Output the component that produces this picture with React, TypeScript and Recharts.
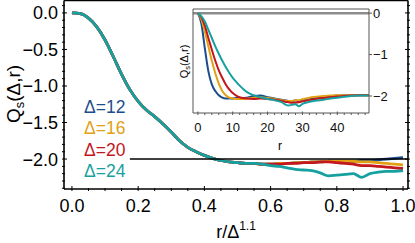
import React from "react";
import { LineChart, Line, XAxis, YAxis, ReferenceLine, Legend } from "recharts";

// main panel: Q_s(Δ,r) against r/Δ^1.1
const rMain = [
  0, 0.025, 0.05, 0.075, 0.1, 0.125, 0.15, 0.175, 0.2, 0.225, 0.25, 0.275, 0.3, 0.325,
  0.35, 0.375, 0.4, 0.425, 0.45, 0.475, 0.5, 0.525, 0.55, 0.575, 0.6, 0.625, 0.65, 0.675,
  0.7, 0.725, 0.75, 0.775, 0.8, 0.825, 0.85, 0.875, 0.9, 0.925, 0.95, 0.975, 1.0,
];
// the four sizes collapse onto one curve up to r/Δ^1.1 ≈ 0.55
const qCollapse = [
  0, -0.01, -0.07, -0.19, -0.37, -0.6, -0.84, -1.05, -1.21, -1.33, -1.42, -1.52, -1.63,
  -1.75, -1.84, -1.9, -1.95, -1.99, -2.02, -2.04, -2.05, -2.06, -2.06,
];
const qTail12 = [-2.07, -2.07, -2.06, -2.06, -2.05, -2.05, -2.04, -2.04, -2.03, -2.03, -2.03, -2.03, -2.02, -2.02, -2.01, -2.0, -1.99, -1.98];
const qTail16 = [-2.07, -2.07, -2.06, -2.06, -2.05, -2.05, -2.04, -2.04, -2.03, -2.03, -2.03, -2.03, -2.04, -2.04, -2.05, -2.06, -2.07, -2.08];
const qTail20 = [-2.07, -2.07, -2.07, -2.06, -2.06, -2.05, -2.05, -2.04, -2.04, -2.05, -2.06, -2.07, -2.09, -2.09, -2.1, -2.11, -2.12, -2.13];
const qTail24 = [-2.07, -2.09, -2.1, -2.12, -2.14, -2.15, -2.16, -2.19, -2.23, -2.22, -2.21, -2.2, -2.25, -2.2, -2.18, -2.17, -2.17, -2.16];

// inset: Q_s(Δ,r) against r
const rInset = [0, 1, 2, 3, 4, 5, 6, 7, 8, 9, 10, 11, 12, 13, 14, 16, 18, 20, 22, 24, 25, 26, 27, 28, 29, 30, 32, 34, 36, 38, 40, 42, 44, 46, 48, 49];
const qInset12 = [0, -0.25, -0.85, -1.4, -1.72, -1.88, -1.98, -2.04, -2.06, -2.06, -2.06, -2.05, -2.05, -2.05, -2.04, -2.0, -1.99, -2.03, -2.06, -2.09, -2.1, -2.12, -2.12, -2.11, -2.12, -2.09, -2.06, -2.04, -2.02, -2.0, -1.99, -1.98, -1.98, -1.98, -1.98, -1.98];
const qInset16 = [0, -0.15, -0.45, -0.8, -1.15, -1.45, -1.7, -1.88, -1.98, -2.04, -2.06, -2.07, -2.07, -2.07, -2.06, -2.04, -2.03, -2.05, -2.07, -2.1, -2.11, -2.12, -2.12, -2.1, -2.1, -2.08, -2.04, -2.02, -2.0, -1.99, -1.98, -1.98, -1.98, -1.98, -1.98, -1.98];
const qInset20 = [0, -0.1, -0.3, -0.6, -0.88, -1.15, -1.38, -1.56, -1.72, -1.84, -1.93, -1.99, -2.03, -2.05, -2.06, -2.07, -2.06, -2.07, -2.09, -2.12, -2.14, -2.15, -2.16, -2.16, -2.15, -2.13, -2.1, -2.07, -2.05, -2.03, -2.01, -2.0, -1.99, -1.98, -1.98, -1.98];
const qInset24 = [0, -0.08, -0.2, -0.4, -0.6, -0.8, -0.98, -1.15, -1.3, -1.44, -1.56, -1.66, -1.75, -1.83, -1.9, -1.98, -2.03, -2.07, -2.1, -2.15, -2.2, -2.23, -2.21, -2.2, -2.25, -2.19, -2.14, -2.11, -2.09, -2.06, -2.04, -2.02, -2.0, -1.99, -1.99, -1.99];

const seriesNames = ["Δ=12", "Δ=16", "Δ=20", "Δ=24"];
const colors = ["#1c4d8d", "#e2a114", "#c3161d", "#17a0a0"];

const xMajor = [0, 0.2, 0.4, 0.6, 0.8, 1.0];
const yMajor = [0, -0.5, -1.0, -1.5, -2.0];
const insetXMajor = [0, 10, 20, 30, 40];
const insetYMajor = [0, -1, -2];
const plateau = -2;

const font = "'Liberation Sans', Arial, sans-serif";

const mainData = [qTail12, qTail16, qTail20, qTail24].map((tail) =>
  rMain.map((r, i) => ({ r, q: [...qCollapse, ...tail][i] }))
);
const insetData = [qInset12, qInset16, qInset20, qInset24].map((qs) =>
  rInset.map((r, i) => ({ r, q: qs[i] }))
);

// minor tick positions
const xTicks = Array.from({ length: 21 }, (_, i) => Math.round(i * 5) / 100);
const yTicks = Array.from({ length: 26 }, (_, i) => Math.round(10 - i * 1) / 10 - 0.9);
const insetXTicks = Array.from({ length: 25 }, (_, i) => i * 2);

const isMajor = (v: number, majors: number[]) => majors.some((m) => Math.abs(m - v) < 1e-6);
const fmt = (v: number) => (v < 0 ? "\u2212" + Math.abs(v).toFixed(1) : v.toFixed(1));

const frameTick =
  (side: string, majors: number[], withLabel: boolean) =>
  (props: any) => {
    const { x, y, payload } = props;
    const len = isMajor(payload.value, majors) ? 5 : 3;
    const major = isMajor(payload.value, majors);
    let line;
    if (side === "bottom") line = <line x1={x} x2={x} y1={y} y2={y - len} stroke="#000" strokeWidth={1} />;
    else if (side === "top") line = <line x1={x} x2={x} y1={y} y2={y + len} stroke="#000" strokeWidth={1} />;
    else if (side === "left") line = <line x1={x} x2={x + len} y1={y} y2={y} stroke="#000" strokeWidth={1} />;
    else line = <line x1={x} x2={x - len} y1={y} y2={y} stroke="#000" strokeWidth={1} />;
    return (
      <g>
        {line}
        {withLabel && major && side === "bottom" && (
          <text x={x} y={y + 20.5} textAnchor="middle" fontSize={18} fontFamily={font} fill="#000">
            {fmt(payload.value)}
          </text>
        )}
        {withLabel && major && side === "left" && (
          <text x={x - 4} y={y} dy="0.36em" textAnchor="end" fontSize={18} fontFamily={font} fill="#000">
            {fmt(payload.value)}
          </text>
        )}
      </g>
    );
  };

const insetBottomTick = (props: any) => {
  const { x, y, payload } = props;
  const major = isMajor(payload.value, insetXMajor);
  return (
    <g>
      <line x1={x} x2={x} y1={y} y2={y - (major ? 3.5 : 2)} stroke="#555" strokeWidth={1} />
      {major && (
        <text x={x} y={y + 16.5} textAnchor="middle" fontSize={13} fontFamily={font} fill="#111">
          {payload.value}
        </text>
      )}
    </g>
  );
};

const qLabel = (cx: number, cy: number, size: number) => (
  <text
    x={cx}
    y={cy}
    textAnchor="middle"
    fontSize={size}
    fontFamily={font}
    fill="#000"
    transform={`rotate(-90, ${cx}, ${cy})`}
  >
    <tspan>Q</tspan>
    <tspan fontSize={size * 0.68} dy={size * 0.22}>s</tspan>
    <tspan dy={-size * 0.22}>(Δ,r)</tspan>
  </text>
);

const renderLegend = (props: any) => (
  <div style={{ fontFamily: font, fontSize: 17.5, lineHeight: "21.3px" }}>
    {props.payload.map((p: any) => (
      <div key={p.value} style={{ color: p.color }}>
        {p.value}
      </div>
    ))}
  </div>
);

function Inset() {
  return (
    <LineChart width={245} height={155} margin={{ top: 0, right: 0, bottom: 0, left: 0 }}>
      <XAxis
        type="number"
        dataKey="r"
        domain={[-1.4, 49.1]}
        allowDataOverflow
        ticks={insetXTicks}
        interval={0}
        height={42}
        tickSize={0}
        tickLine={false}
        tick={insetBottomTick}
        axisLine={{ stroke: "#555", strokeWidth: 1 }}
        label={{
          content: () => (
            <text x={130} y={149.5} textAnchor="middle" fontSize={12} fontFamily={font} fill="#000">
              r
            </text>
          ),
        }}
      />
      <XAxis xAxisId="top" orientation="top" type="number" domain={[-1.4, 49.1]} allowDataOverflow height={9} tick={false} tickLine={false} axisLine={{ stroke: "#555", strokeWidth: 1 }} />
      <YAxis
        type="number"
        domain={[-2.41, 0.1]}
        allowDataOverflow
        width={43}
        tick={false}
        tickLine={false}
        axisLine={{ stroke: "#555", strokeWidth: 1 }}
        label={{ content: () => qLabel(38, 61.5, 11) }}
      />
      <YAxis
        yAxisId="right"
        orientation="right"
        type="number"
        domain={[-2.41, 0.1]}
        allowDataOverflow
        width={26}
        ticks={insetYMajor}
        interval={0}
        tickSize={3}
        tickMargin={1}
        tickLine={{ stroke: "#555" }}
        tickFormatter={(v: number) => (v < 0 ? "\u2212" + Math.abs(v) : String(v))}
        tick={{ fontSize: 13, fontFamily: font, fill: "#111" }}
        axisLine={{ stroke: "#555", strokeWidth: 1 }}
      />
      <ReferenceLine y={0} stroke="#8c8c8c" strokeWidth={2.5} />
      {insetData.map((d, i) => (
        <Line
          key={seriesNames[i]}
          data={d}
          dataKey="q"
          type="monotone"
          stroke={colors[i]}
          strokeWidth={2}
          dot={false}
          isAnimationActive={false}
        />
      ))}
    </LineChart>
  );
}

export default function App() {
  return (
    <div style={{ position: "relative", width: 415, height: 243, background: "#fff" }}>
      <style>{"body{margin:0}"}</style>
      <LineChart width={415} height={243} margin={{ top: 0, right: 0, bottom: 0, left: 0 }}>
        <XAxis
          type="number"
          dataKey="r"
          domain={[-0.024, 1.015]}
          allowDataOverflow
          ticks={xTicks}
          interval={0}
          height={54}
          tickSize={0}
          tickLine={false}
          tick={frameTick("bottom", xMajor, true)}
          axisLine={{ stroke: "#000", strokeWidth: 1.6 }}
          label={{
            content: () => (
              <text x={236} y={238} textAnchor="middle" fontSize={18} fontFamily={font} fill="#000">
                <tspan>r/Δ</tspan>
                <tspan fontSize={12} dy={-8}>1.1</tspan>
              </text>
            ),
          }}
        />
        <XAxis
          xAxisId="top"
          orientation="top"
          type="number"
          domain={[-0.024, 1.015]}
          allowDataOverflow
          ticks={xTicks}
          interval={0}
          height={0.5}
          tickSize={0}
          tickLine={false}
          tick={frameTick("top", xMajor, false)}
          axisLine={{ stroke: "#000", strokeWidth: 1.6 }}
        />
        <YAxis
          type="number"
          domain={[-2.41, 0.17]}
          allowDataOverflow
          ticks={yTicks}
          interval={0}
          width={64}
          tickSize={0}
          tickLine={false}
          tick={frameTick("left", yMajor, true)}
          axisLine={{ stroke: "#000", strokeWidth: 1.6 }}
          label={{ content: () => qLabel(20, 94, 19) }}
        />
        <YAxis
          yAxisId="right"
          orientation="right"
          type="number"
          domain={[-2.41, 0.17]}
          allowDataOverflow
          ticks={yTicks}
          interval={0}
          width={7}
          tickSize={0}
          tickLine={false}
          tick={frameTick("right", yMajor, false)}
          axisLine={{ stroke: "#000", strokeWidth: 1.6 }}
        />
        {mainData.map((d, i) => (
          <Line
            key={seriesNames[i]}
            name={seriesNames[i]}
            data={d}
            dataKey="q"
            type="monotone"
            stroke={colors[i]}
            strokeWidth={2.8}
            dot={false}
            isAnimationActive={false}
          />
        ))}
        <ReferenceLine
          segment={[
            { x: 0.175, y: plateau },
            { x: 1.015, y: plateau },
          ]}
          stroke="#000"
          strokeWidth={1.5}
        />
        <Legend
          layout="horizontal"
          align="center"
          verticalAlign="middle"
          content={renderLegend}
          wrapperStyle={{ left: 84, top: 97, width: "auto", height: "auto" }}
        />
      </LineChart>
      <div style={{ position: "absolute", left: 150, top: 0, width: 245, height: 155 }}>
        <Inset />
      </div>
    </div>
  );
}
